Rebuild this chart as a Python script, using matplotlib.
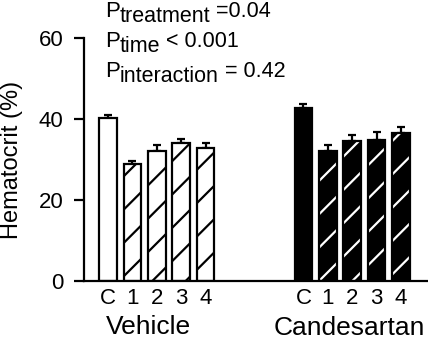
import numpy as np
import matplotlib
matplotlib.use("Agg")
import matplotlib.pyplot as plt

plt.rcParams['font.family'] = ['Liberation Sans', 'DejaVu Sans']
plt.rcParams['hatch.linewidth'] = 1.6

# data
time_labels = ['C', '1', '2', '3', '4']
groups = ['Vehicle', 'Candesartan']
vehicle_mean = [40.2, 28.9, 32.1, 34.0, 32.9]
vehicle_sem = [0.8, 0.8, 1.5, 1.1, 1.2]
candesartan_mean = [42.6, 32.1, 34.6, 34.7, 36.6]
candesartan_sem = [1.2, 1.5, 1.4, 2.0, 1.5]
p_subs = ['treatment', 'time', 'interaction']
p_vals = [' =0.04', ' < 0.001', ' = 0.42']

W, H = 428, 339
fig = plt.figure(figsize=(W / 100, H / 100), dpi=100)
ax = fig.add_axes([84 / W, 58 / H, 344 / W, 243 / H])

x_veh = np.arange(5)
x_can = np.arange(5) + 8
w = 0.72

# Vehicle: open control, hatched time points
ax.bar(x_veh[0], vehicle_mean[0], w, color='white', edgecolor='black', linewidth=1.6, zorder=2)
ax.bar(x_veh[1:], vehicle_mean[1:], w, color='white', edgecolor='black', hatch='/', linewidth=1.6, zorder=2)
ax.errorbar(x_veh, vehicle_mean, yerr=[np.zeros(5), vehicle_sem], fmt='none', ecolor='black',
            elinewidth=1.6, capsize=3, capthick=1.6, zorder=1)

# Candesartan: solid control, black with white hatch
ax.bar(x_can[0], candesartan_mean[0], w, color='black', edgecolor='black', linewidth=1.6, zorder=2)
ax.bar(x_can[1:], candesartan_mean[1:], w, color='black', edgecolor='white', hatch='/', linewidth=0, zorder=2)
ax.bar(x_can[1:], candesartan_mean[1:], w, fill=False, edgecolor='black', linewidth=1.6, zorder=3)
ax.errorbar(x_can, candesartan_mean, yerr=[np.zeros(5), candesartan_sem], fmt='none', ecolor='black',
            elinewidth=1.6, capsize=3, capthick=1.6, zorder=1)

ax.set_xlim(-0.98, 13.1)
ax.set_ylim(0, 60)
ax.set_yticks([0, 20, 40, 60])
ax.set_xticks(list(x_veh) + list(x_can))
ax.set_xticklabels(time_labels * 2)
ax.tick_params(axis='y', length=7, width=1.6, labelsize=16, pad=8)
ax.tick_params(axis='x', length=0, labelsize=16, pad=5)
for s in ['top', 'right']:
    ax.spines[s].set_visible(False)
ax.spines['left'].set_linewidth(1.6)
ax.spines['bottom'].set_linewidth(1.6)
ax.set_ylabel('Hematocrit (%)', fontsize=17)
ax.yaxis.set_label_coords((23 - 84) / 344, 0.5)

fig.text(148 / W, 5 / H, groups[0], ha='center', va='baseline', fontsize=19)
fig.text(349 / W, 4 / H, groups[1], ha='center', va='baseline', fontsize=19)

# P values: "P" with a large subscript, then the value
fig.canvas.draw()
r = fig.canvas.get_renderer()
for i in range(3):
    yb = (H - 17 - 30 * i) / H
    t = fig.text(105 / W, yb, 'P', ha='left', va='baseline', fontsize=16)
    x1 = t.get_window_extent(r).x1
    t2 = fig.text(x1 / W, yb - 5 / H, p_subs[i], ha='left', va='baseline', fontsize=15.5)
    x2 = t2.get_window_extent(r).x1
    fig.text(x2 / W, yb, p_vals[i], ha='left', va='baseline', fontsize=15.5)

fig.savefig('out.png', dpi=100)
